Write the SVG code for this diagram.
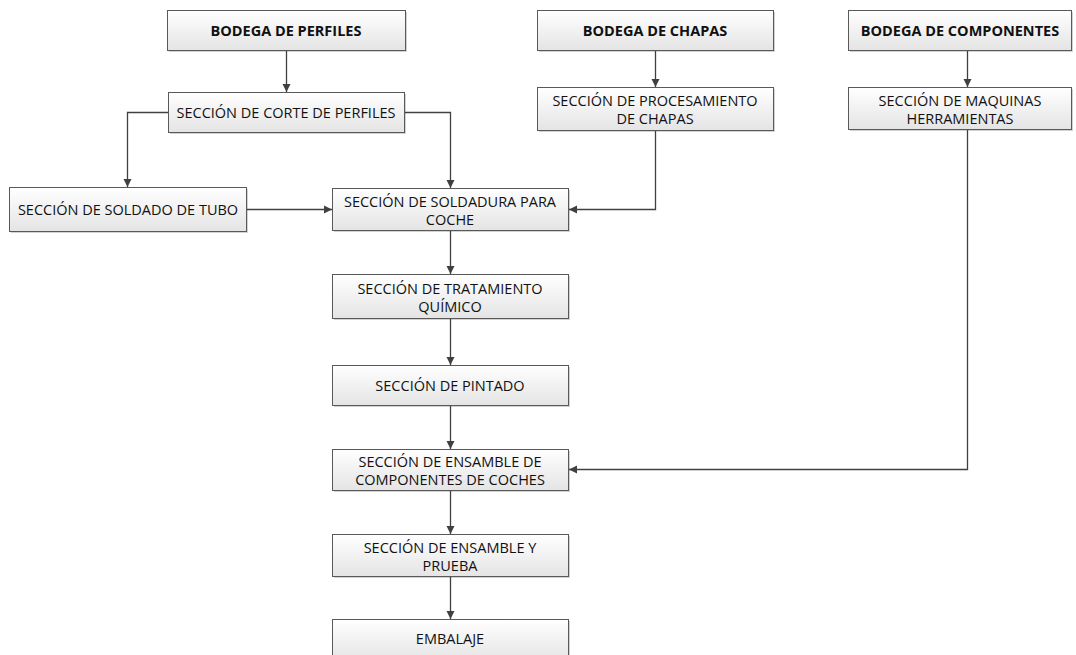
<svg xmlns="http://www.w3.org/2000/svg" width="1076" height="655" viewBox="0 0 1076 655">
  <defs>
    <linearGradient id="boxFill" x1="0" y1="0" x2="0" y2="1">
      <stop offset="0" stop-color="#ffffff"/>
      <stop offset="1" stop-color="#e4e4e4"/>
    </linearGradient>
    <marker id="arrow" markerWidth="9" markerHeight="9" refX="8" refY="4.5" orient="auto" markerUnits="userSpaceOnUse">
      <path d="M0,0.5 L8,4.5 L0,8.5 Z" fill="#404040"/>
    </marker>
  </defs>
  <style>
    .shadow { fill: #d2d2d2; }
    .box { fill: url(#boxFill); stroke: #595959; stroke-width: 1; }
    .lbl { font-family: "Open Sans", "Noto Sans", sans-serif; font-size: 14.5px; fill: #111; text-anchor: middle; dominant-baseline: central; }
    .hdr { font-family: "Open Sans", "Noto Sans", sans-serif; font-size: 14.5px; font-weight: bold; fill: #111; text-anchor: middle; dominant-baseline: central; }
    .link { fill: none; stroke: #404040; stroke-width: 1.3; marker-end: url(#arrow); }
  </style>

  <!-- storage nodes -->
  <g id="bodega-perfiles">
    <rect class="shadow" x="169" y="12" width="238" height="40"/>
    <rect class="box" x="167.5" y="10.5" width="238" height="40"/>
    <text class="hdr" x="286" y="30.5">BODEGA DE PERFILES</text>
  </g>
  <g id="bodega-chapas">
    <rect class="shadow" x="539" y="12" width="236" height="40"/>
    <rect class="box" x="537.5" y="10.5" width="236" height="40"/>
    <text class="hdr" x="655" y="30.5">BODEGA DE CHAPAS</text>
  </g>
  <g id="bodega-componentes">
    <rect class="shadow" x="850" y="12" width="223" height="40"/>
    <rect class="box" x="848.5" y="10.5" width="223" height="40"/>
    <text class="hdr" x="960" y="30.5">BODEGA DE COMPONENTES</text>
  </g>

  <!-- process sections -->
  <g id="corte-perfiles">
    <rect class="shadow" x="170" y="94" width="236" height="40"/>
    <rect class="box" x="168.5" y="92.5" width="236" height="40"/>
    <text class="lbl" x="286" y="112.5">SECCIÓN DE CORTE DE PERFILES</text>
  </g>
  <g id="procesamiento-chapas">
    <rect class="shadow" x="539" y="89" width="236" height="43"/>
    <rect class="box" x="537.5" y="87.5" width="236" height="43"/>
    <text class="lbl" x="655" y="100">SECCIÓN DE PROCESAMIENTO</text>
    <text class="lbl" x="655" y="118">DE CHAPAS</text>
  </g>
  <g id="maquinas-herramientas">
    <rect class="shadow" x="850" y="89" width="223" height="42"/>
    <rect class="box" x="848.5" y="87.5" width="223" height="42"/>
    <text class="lbl" x="960" y="100">SECCIÓN DE MAQUINAS</text>
    <text class="lbl" x="960" y="118">HERRAMIENTAS</text>
  </g>
  <g id="soldado-tubo">
    <rect class="shadow" x="11" y="189" width="237" height="44"/>
    <rect class="box" x="9.5" y="187.5" width="237" height="44"/>
    <text class="lbl" x="128" y="209.5">SECCIÓN DE SOLDADO DE TUBO</text>
  </g>
  <g id="soldadura-coche">
    <rect class="shadow" x="334" y="190" width="236" height="42"/>
    <rect class="box" x="332.5" y="188.5" width="236" height="42"/>
    <text class="lbl" x="450" y="201">SECCIÓN DE SOLDADURA PARA</text>
    <text class="lbl" x="450" y="219">COCHE</text>
  </g>
  <g id="tratamiento-quimico">
    <rect class="shadow" x="334" y="276" width="236" height="44"/>
    <rect class="box" x="332.5" y="274.5" width="236" height="44"/>
    <text class="lbl" x="450" y="288">SECCIÓN DE TRATAMIENTO</text>
    <text class="lbl" x="450" y="306">QUÍMICO</text>
  </g>
  <g id="pintado">
    <rect class="shadow" x="334" y="367" width="236" height="40"/>
    <rect class="box" x="332.5" y="365.5" width="236" height="40"/>
    <text class="lbl" x="450" y="385.5">SECCIÓN DE PINTADO</text>
  </g>
  <g id="ensamble-componentes">
    <rect class="shadow" x="334" y="451" width="236" height="41"/>
    <rect class="box" x="332.5" y="449.5" width="236" height="41"/>
    <text class="lbl" x="450" y="461">SECCIÓN DE ENSAMBLE DE</text>
    <text class="lbl" x="450" y="479">COMPONENTES DE COCHES</text>
  </g>
  <g id="ensamble-prueba">
    <rect class="shadow" x="334" y="536" width="236" height="42"/>
    <rect class="box" x="332.5" y="534.5" width="236" height="42"/>
    <text class="lbl" x="450" y="547">SECCIÓN DE ENSAMBLE Y</text>
    <text class="lbl" x="450" y="565">PRUEBA</text>
  </g>
  <g id="embalaje">
    <rect class="shadow" x="334" y="621" width="236" height="42"/>
    <rect class="box" x="332.5" y="619.5" width="236" height="42"/>
    <text class="lbl" x="450" y="638">EMBALAJE</text>
  </g>

  <!-- flow connectors -->
  <g id="connectors">
    <path class="link" d="M286.5 51 V92"/>
    <path class="link" d="M168 112.5 H127.5 V187"/>
    <path class="link" d="M405 112.5 H450.5 V188"/>
    <path class="link" d="M247 209.5 H332"/>
    <path class="link" d="M655.5 51 V87"/>
    <path class="link" d="M655.5 131 V209.5 H569"/>
    <path class="link" d="M450.5 231 V274"/>
    <path class="link" d="M450.5 319 V365"/>
    <path class="link" d="M450.5 406 V449"/>
    <path class="link" d="M967.5 51 V87"/>
    <path class="link" d="M967.5 130 V469.5 H569"/>
    <path class="link" d="M450.5 491 V534"/>
    <path class="link" d="M450.5 577 V619"/>
  </g>
</svg>
